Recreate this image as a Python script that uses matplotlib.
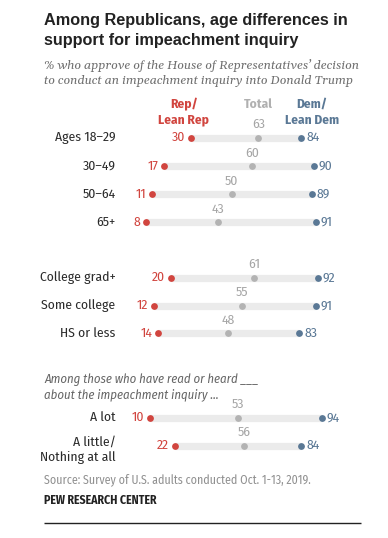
import matplotlib
matplotlib.use("Agg")
import matplotlib.pyplot as plt

# ---- data ----
groups = ["Ages 18\u201329", "30\u201349", "50\u201364", "65+",
          "College grad+", "Some college", "HS or less",
          "A lot", "A little/\nNothing at all"]
rep = [30, 17, 11, 8, 20, 12, 14, 10, 22]
total = [63, 60, 50, 43, 61, 55, 48, 53, 56]
dem = [84, 90, 89, 91, 92, 91, 83, 94, 84]

RED = "#d1453f"
GRAY = "#a6a6a6"
BLUE = "#5a7895"
BAR = "#ebebeb"
DARK = "#2b2b2b"

SANS = ["Fira Sans Condensed", "Liberation Sans", "DejaVu Sans"]
TITLE = ["Liberation Sans", "DejaVu Sans"]
SERIF = ["Gelasio", "Liberation Serif", "DejaVu Serif"]

W, H = 388, 538
fig = plt.figure(figsize=(W / 100, H / 100), dpi=100)
ax = fig.add_axes([0, 0, 1, 1])
# pixel mapping: x_px = 129.6 + 2.045 * value
sx = 2.045
x0 = 129.6
ax.set_xlim(-x0 / sx, (W - x0) / sx)
ax.set_ylim(H, 0)
ax.axis("off")

px = 1 / sx  # one pixel in data units (x)

row_y = [137.7, 166, 194, 222, 277.7, 305.7, 333.3, 417.7, 445.7]

LAB = 9.8
for i, g in enumerate(groups):
    y = row_y[i]
    ax.hlines(y, rep[i], dem[i], color=BAR, lw=5.2, zorder=1)
    ax.scatter([rep[i]], [y], s=24, color=RED, zorder=3, linewidths=0)
    ax.scatter([total[i]], [y], s=24, color="#b3b3b3", zorder=3, linewidths=0)
    ax.scatter([dem[i]], [y], s=24, color=BLUE, zorder=3, linewidths=0)
    ax.text(rep[i] - 6 * px, y, str(rep[i]), color=RED, ha="right", va="center",
            fontsize=LAB, family=SANS)
    ax.text(dem[i] + 5 * px, y, str(dem[i]), color=BLUE, ha="left", va="center",
            fontsize=LAB, family=SANS)
    ax.text(total[i], y - 13, str(total[i]), color=GRAY, ha="center", va="center",
            fontsize=LAB, family=SANS)
    if "\n" in g:
        a, b = g.split("\n")
        ax.text(-14 * px, 442, a, color=DARK, ha="right", va="center",
                fontsize=LAB, family=SANS)
        ax.text(-14 * px, 458, b, color=DARK, ha="right", va="center",
                fontsize=LAB, family=SANS)
    else:
        ax.text(-14 * px, y, g, color=DARK, ha="right", va="center",
                fontsize=LAB, family=SANS)

# column headers
HD = 9.6
ax.text(26.5, 104, "Rep/", color=RED, ha="center", va="center",
        fontsize=HD, fontweight="bold", family=SANS)
ax.text(26.5, 120, "Lean Rep", color=RED, ha="center", va="center",
        fontsize=HD, fontweight="bold", family=SANS)
ax.text(63.2, 104, "Total", color="#b0b0b0", ha="center", va="center",
        fontsize=HD, fontweight="bold", family=SANS)
ax.text(89, 104, "Dem/", color=BLUE, ha="center", va="center",
        fontsize=HD, fontweight="bold", family=SANS)
ax.text(89, 120, "Lean Dem", color=BLUE, ha="center", va="center",
        fontsize=HD, fontweight="bold", family=SANS)

lx = (44 - x0) / sx
# title
ax.text(lx, 21, "Among Republicans, age differences in", color="#222222",
        ha="left", va="center", fontsize=11.7, fontweight="bold", family=TITLE)
ax.text(lx, 41, "support for impeachment inquiry", color="#222222",
        ha="left", va="center", fontsize=11.7, fontweight="bold", family=TITLE)
# subtitle
ax.text(lx, 66, "% who approve of the House of Representatives\u2019 decision",
        color="#707070", ha="left", va="center", fontsize=8.95, style="italic",
        family=SERIF)
ax.text(lx, 81, "to conduct an impeachment inquiry into Donald Trump",
        color="#707070", ha="left", va="center", fontsize=8.95, style="italic",
        family=SERIF)

# section note
ax.text(lx, 380, "Among those who have read or heard ___", color="#666666",
        ha="left", va="center", fontsize=9.2, style="italic", family=SANS)
ax.text(lx, 395, "about the impeachment inquiry ...", color="#666666",
        ha="left", va="center", fontsize=9.2, style="italic", family=SANS)

# source
ax.text(lx, 480, "Source: Survey of U.S. adults conducted Oct. 1-13, 2019.",
        color="#909090", ha="left", va="center", fontsize=8.6, family=SANS)
ax.text(lx, 500, "PEW RESEARCH CENTER", color="#222222", ha="left",
        va="center", fontsize=8.5, fontweight="bold", family=SANS)
ax.hlines(523, lx, (361 - x0) / sx, color="#222222", lw=1.0)

fig.savefig("out.png", dpi=100, facecolor="white")
